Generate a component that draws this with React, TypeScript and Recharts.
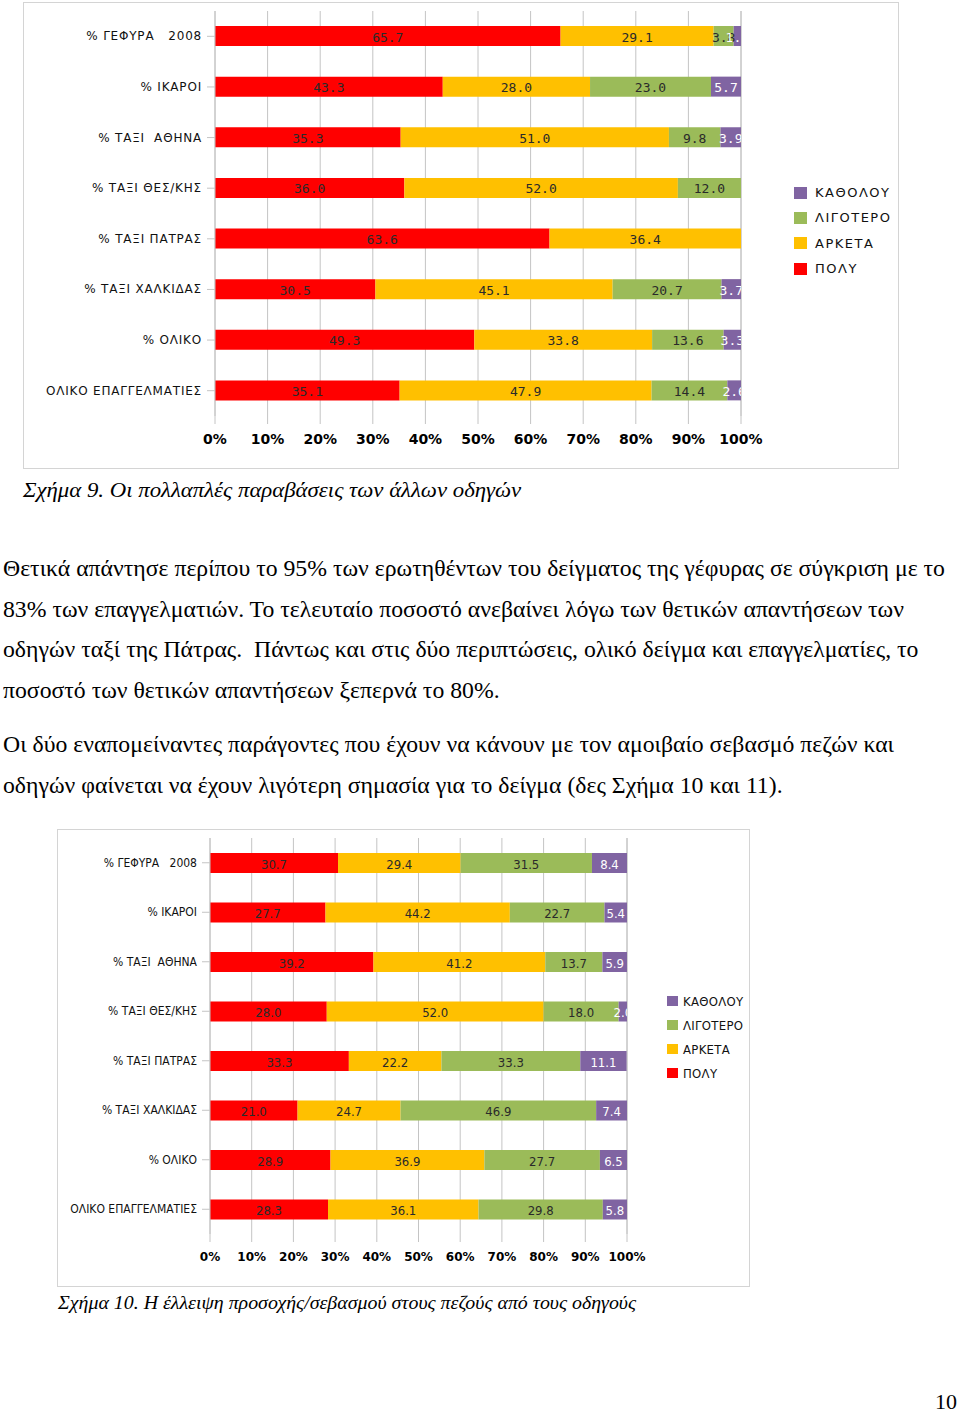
import { BarChart, Bar, XAxis, YAxis, CartesianGrid, LabelList } from 'recharts';

// series (stack order, left to right)
const SERIES = ['ΠΟΛΥ', 'ΑΡΚΕΤΑ', 'ΛΙΓΟΤΕΡΟ', 'ΚΑΘΟΛΟΥ'];
const COLORS = ['#FF0000', '#FFC000', '#9BBB59', '#8064A2'];
const GROUPS = [
  '% ΓΕΦΥΡΑ   2008',
  '% ΙΚΑΡΟΙ',
  '% ΤΑΞΙ  ΑΘΗΝΑ',
  '% ΤΑΞΙ ΘΕΣ/ΚΗΣ',
  '% ΤΑΞΙ ΠΑΤΡΑΣ',
  '% ΤΑΞΙ ΧΑΛΚΙΔΑΣ',
  '% ΟΛΙΚΟ',
  'ΟΛΙΚΟ ΕΠΑΓΓΕΛΜΑΤΙΕΣ',
];
const X_TICKS = [0, 10, 20, 30, 40, 50, 60, 70, 80, 90, 100];

// Σχήμα 9
const FIG9_POLY = [65.7, 43.3, 35.3, 36.0, 63.6, 30.5, 49.3, 35.1];
const FIG9_ARKETA = [29.1, 28.0, 51.0, 52.0, 36.4, 45.1, 33.8, 47.9];
const FIG9_LIGOTERO = [3.8, 23.0, 9.8, 12.0, 0, 20.7, 13.6, 14.4];
const FIG9_KATHOLOU = [1.4, 5.7, 3.9, 0, 0, 3.7, 3.3, 2.6];

// Σχήμα 10
const FIG10_POLY = [30.7, 27.7, 39.2, 28.0, 33.3, 21.0, 28.9, 28.3];
const FIG10_ARKETA = [29.4, 44.2, 41.2, 52.0, 22.2, 24.7, 36.9, 36.1];
const FIG10_LIGOTERO = [31.5, 22.7, 13.7, 18.0, 33.3, 46.9, 27.7, 29.8];
const FIG10_KATHOLOU = [8.4, 5.4, 5.9, 2.0, 11.1, 7.4, 6.5, 5.8];

const buildRows = (cols: number[][]) =>
  GROUPS.map((name, i) => {
    const row: any = { name };
    cols.forEach((c, k) => { row['s' + k] = c[i]; });
    return row;
  });

const FIG9_ROWS = buildRows([FIG9_POLY, FIG9_ARKETA, FIG9_LIGOTERO, FIG9_KATHOLOU]);
const FIG10_ROWS = buildRows([FIG10_POLY, FIG10_ARKETA, FIG10_LIGOTERO, FIG10_KATHOLOU]);

const GRID = '#c4c4c4';

interface ChartCfg {
  id: string;
  rows: any[];
  width: number;
  height: number;
  yWidth: number;
  right: number;
  top: number;
  bottom: number;
  catFont: string;
  catSize: number;
  catSpacing: number;
  labelFont: string;
  labelSize: number;
  tickSize: number;
}

function StackChart({ cfg }: { cfg: ChartCfg }) {
  const plotRight = cfg.width - cfg.right;

  const CatTick = ({ x, y, payload }: any) => (
    <text
      x={x} y={y} textAnchor="end" dominantBaseline="central"
      fontFamily={cfg.catFont} fontSize={cfg.catSize} fill="#111"
      letterSpacing={cfg.catSpacing}
      style={{ whiteSpace: 'pre' }}
    >
      {payload.value}
    </text>
  );

  // value labels, clipped at the right edge of the plot like the original
  const segLabel = (k: number) => (p: any) => {
    const v = p.value;
    if (!v) return null;
    const x = Number(p.x), y = Number(p.y), w = Number(p.width), h = Number(p.height);
    return (
      <text
        x={x + w / 2} y={y + h / 2 + 1} textAnchor="middle" dominantBaseline="central"
        fontFamily={cfg.labelFont} fontSize={cfg.labelSize}
        fill={k === 3 ? '#ffffff' : '#2a2a2a'}
        clipPath={`url(#${cfg.id}-clip)`}
      >
        {Number(v).toFixed(1)}
      </text>
    );
  };

  return (
    <BarChart
      width={cfg.width} height={cfg.height} data={cfg.rows} layout="vertical"
      margin={{ top: cfg.top, right: cfg.right, bottom: 0, left: 0 }}
      barSize={20}
    >
      <defs>
        <clipPath id={`${cfg.id}-clip`}>
          <rect x={0} y={0} width={plotRight} height={cfg.height} />
        </clipPath>
      </defs>
      <CartesianGrid vertical horizontal={false} stroke={GRID} />
      <XAxis
        type="number" domain={[0, 100]} ticks={X_TICKS} interval={0}
        tickFormatter={(v: number) => `${v}%`}
        axisLine={false} tickLine={{ stroke: GRID }} tickSize={8} tickMargin={10}
        height={cfg.bottom}
        tick={{ fill: '#000', fontSize: cfg.tickSize, fontWeight: 700, fontFamily: 'DejaVu Sans' }}
      />
      <YAxis
        type="category" dataKey="name" width={cfg.yWidth} interval={0}
        axisLine={{ stroke: GRID }} tickLine={{ stroke: GRID }} tickSize={8} tickMargin={5}
        tick={<CatTick />}
      />
      {SERIES.map((s, k) => (
        <Bar key={s} dataKey={'s' + k} name={s} stackId="a" fill={COLORS[k]} isAnimationActive={false}>
          <LabelList dataKey={'s' + k} content={segLabel(k)} />
        </Bar>
      ))}
    </BarChart>
  );
}

function Legend({ left, top, gap, font, size, spacing, square }: any) {
  const items = SERIES.map((s, k) => ({ s, c: COLORS[k] })).reverse();
  return (
    <div style={{ position: 'absolute', left, top }}>
      {items.map(it => (
        <div key={it.s} style={{ display: 'flex', alignItems: 'center', height: gap }}>
          <div style={{ width: square, height: square - 1, background: it.c, marginRight: square === 13 ? 8 : 5 }} />
          <span style={{ fontFamily: font, fontSize: size, letterSpacing: spacing, color: '#111' }}>{it.s}</span>
        </div>
      ))}
    </div>
  );
}

const FIG9: ChartCfg = {
  id: 'f9', rows: FIG9_ROWS, width: 875, height: 465, yWidth: 191, right: 158,
  top: 8, bottom: 52, catFont: 'DejaVu Sans', catSize: 12, catSpacing: 0.8,
  labelFont: 'DejaVu Sans Mono', labelSize: 13, tickSize: 14,
};

const FIG10: ChartCfg = {
  id: 'f10', rows: FIG10_ROWS, width: 692, height: 457, yWidth: 152, right: 123,
  top: 8, bottom: 53, catFont: "'DejaVu Sans Condensed', sans-serif", catSize: 12, catSpacing: 0,
  labelFont: "'DejaVu Sans Condensed', sans-serif", labelSize: 13, tickSize: 12,
};

const serif = "'Liberation Serif', 'DejaVu Serif', serif";

const PARA1 = [
  'Θετικά απάντησε περίπου το 95% των ερωτηθέντων του δείγματος της γέφυρας σε σύγκριση με το',
  '83% των επαγγελματιών. Το τελευταίο ποσοστό ανεβαίνει λόγω των θετικών απαντήσεων των',
  'οδηγών ταξί της Πάτρας.  Πάντως και στις δύο περιπτώσεις, ολικό δείγμα και επαγγελματίες, το',
  'ποσοστό των θετικών απαντήσεων ξεπερνά το 80%.',
];
const PARA2 = [
  'Οι δύο εναπομείναντες παράγοντες που έχουν να κάνουν με τον αμοιβαίο σεβασμό πεζών και',
  'οδηγών φαίνεται να έχουν λιγότερη σημασία για το δείγμα (δες Σχήμα 10 και 11).',
];

export default function App() {
  const box = { position: 'absolute' as const, border: '1px solid #d4d4d4', background: '#fff', boxSizing: 'border-box' as const };
  const text = { position: 'absolute' as const, fontFamily: serif, color: '#000', whiteSpace: 'pre' as const, transformOrigin: 'left top' };
  return (
    <div style={{ position: 'absolute', left: 0, top: 0, width: 960, height: 1413, background: '#fff', overflow: 'hidden' }}>
      {/* Σχήμα 9 */}
      <div style={{ ...box, left: 23, top: 2, width: 876, height: 467 }}>
        <StackChart cfg={FIG9} />
      </div>
      <Legend left={794} top={180} gap={25.3} font="DejaVu Sans" size={13} spacing={1.5} square={13} />
      <div style={{ ...text, left: 23, top: 477, fontSize: 21.5, lineHeight: '26px', fontStyle: 'italic', transform: 'scaleX(1.06)' }}>
        Σχήμα 9. Οι πολλαπλές παραβάσεις των άλλων οδηγών
      </div>

      <div style={{ ...text, left: 3, top: 549, fontSize: 22.5, lineHeight: '40.7px', transform: 'scaleX(1.055)' }}>
        {PARA1.map((l, i) => <div key={i}>{l}</div>)}
      </div>
      <div style={{ ...text, left: 3, top: 724, fontSize: 22.5, lineHeight: '41px', transform: 'scaleX(1.055)' }}>
        {PARA2.map((l, i) => <div key={i}>{l}</div>)}
      </div>

      {/* Σχήμα 10 */}
      <div style={{ ...box, left: 57, top: 829, width: 693, height: 458 }}>
        <StackChart cfg={FIG10} />
      </div>
      <Legend left={667} top={989} gap={24} font="'DejaVu Sans Condensed', sans-serif" size={13} spacing={0.3} square={11} />
      <div style={{ ...text, left: 58, top: 1291, fontSize: 19, lineHeight: '24px', fontStyle: 'italic', transform: 'scaleX(1.047)' }}>
        Σχήμα 10. Η έλλειψη προσοχής/σεβασμού στους πεζούς από τους οδηγούς
      </div>

      <div style={{ ...text, left: 935, top: 1389, fontSize: 22, lineHeight: '26px' }}>10</div>
    </div>
  );
}
